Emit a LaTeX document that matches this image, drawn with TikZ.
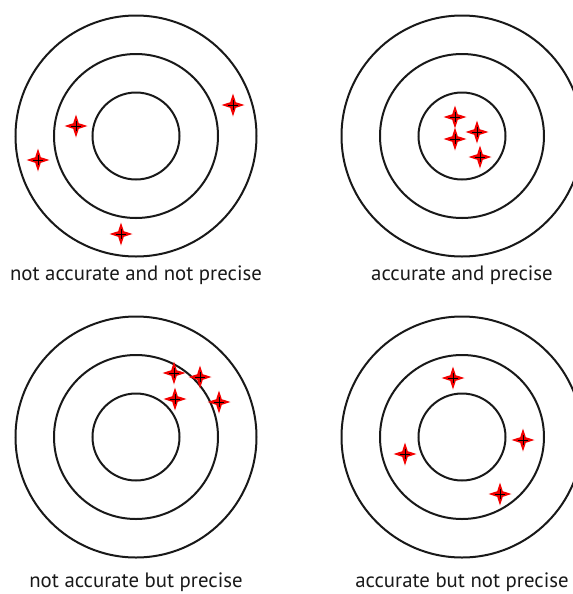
\documentclass[tikz,border=0pt]{standalone}
\usepackage{fontspec}
\setmainfont{PT Sans}
\usetikzlibrary{positioning}

\begin{document}
\begin{tikzpicture}[
  x=0.75pt, y=-0.75pt,
  ring/.style={draw=black!90, line width=1.5pt},
  caption/.style={font=\fontsize{15.6}{18}\selectfont, text=black!90, inner sep=0pt},
  hit/.pic={
    \fill[red!95!black] (11.5,0) -- (2.8,2.8) -- (0,11.5) -- (-2.8,2.8) -- (-11.5,0)
        -- (-2.8,-2.8) -- (0,-11.5) -- (2.8,-2.8) -- cycle;
    \draw[black, line width=0.5pt] (-5,0) -- (5,0) (0,-5) -- (0,5);
  }
]
\useasboundingbox (0,0) rectangle (573,594);
\clip (0,0) rectangle (573,594);

% ---- the four targets ----
\foreach \name/\cx/\cy in {tl/136/136, tr/462/136, bl/136/437, br/462/437} {
  \coordinate (\name) at (\cx,\cy);
  \draw[ring] (\name) circle[radius=120.5];
  \draw[ring] (\name) circle[radius=82];
  \draw[ring] (\name) circle[radius=43.5];
}

% ---- shots ----
\foreach \sx/\sy in {76/126, 38/160, 233/105, 121/234} % not accurate, not precise
  \pic at (\sx,\sy) {hit};
\foreach \sx/\sy in {455/117, 455/139, 477/132, 480/157} % accurate and precise
  \pic at (\sx,\sy) {hit};
\foreach \sx/\sy in {174/373, 200/377, 175/399, 219/402} % precise only
  \pic at (\sx,\sy) {hit};
\foreach \sx/\sy in {453/378, 405/454, 523/440, 500/494} % accurate only
  \pic at (\sx,\sy) {hit};

% ---- captions ----
\node[caption] (captl) at (136,275) {not accurate and not precise};
\node[caption] (captr) at (462,275) {accurate and precise};
\node[caption] (capbl) at (136,582) {not accurate but precise};
\node[caption] (capbr) at (462,582) {accurate but not precise};

\end{tikzpicture}
\end{document}
